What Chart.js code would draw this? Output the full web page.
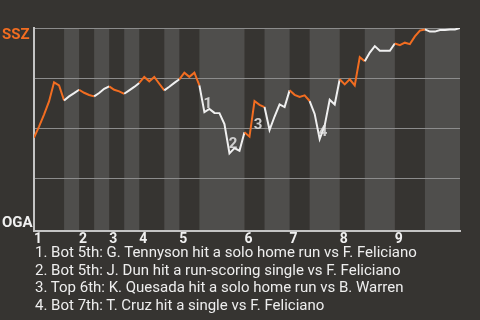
<!DOCTYPE html>
<html>
<head>
<meta charset="utf-8">
<script src="https://cdn.jsdelivr.net/npm/chart.js@4/dist/chart.umd.min.js"></script>
<style>
  body { margin: 0; background: #363431; font-family: Roboto, sans-serif; }
  #wrap { position: relative; width: 480px; height: 250px; }
  #notes { position: absolute; left: 35px; top: 244px; color: #eeeeee; font-size: 15px; line-height: 17.7px; }
</style>
</head>
<body>
<div id="wrap"><canvas id="wpChart"></canvas></div>
<div id="notes"></div>
<script>
// win probability for SSZ, one value per plate appearance
const winProb = [
  45.5, 51, 57, 63.5, 73, 71.5,
  64, 66, 67.6,
  69.3, 67.8, 66.7,
  66, 67.7, 69.8,
  71, 69.3, 68.5,
  67.3, 69, 70.7,
  72.7, 75.7, 73.5, 75.7, 72.3,
  69, 70.8, 72.7,
  74.5, 77.8, 75.7, 77.8,
  71.5, 58.2, 59.8, 57.8, 57.7, 52.3, 37.7, 40.3, 39,
  48.2, 46, 63.7, 61.8,
  60.7, 49.3, 56, 62, 60.7,
  69, 66.8, 65.7, 66.5,
  63.7, 57.3, 44.8, 51.5, 64.3, 62,
  74.5, 72, 74.5, 71.5, 85.5,
  83.5, 87.8, 91, 88.7, 88.7, 88.7,
  92.3, 91.5, 92.7, 92, 95.8, 98.7,
  99.3, 98.2, 98.2, 99, 99, 99.3, 99.3, 100
];

// event index where each half inning starts (last = end of game)
const halfInnings = [0, 6, 9, 12, 15, 18, 21, 26, 29, 33, 42, 46, 51, 55, 61, 66, 72, 78, 85];
const inningLabels = ['1', '2', '3', '4', '5', '6', '7', '8', '9'];
const gridValues = [0, 25, 50, 75, 100];
const teams = ['SSZ', 'OGA'];

const noteEvents = [34, 39, 44, 57];
const noteTexts = [
  'Bot 5th: G. Tennyson hit a solo home run vs F. Feliciano',
  'Bot 5th: J. Dun hit a run-scoring single vs F. Feliciano',
  'Top 6th: K. Quesada hit a solo home run vs B. Warren',
  'Bot 7th: T. Cruz hit a single vs F. Feliciano'
];

const orange = '#f26d21';
const white = '#f0f0f0';

const inningStarts = halfInnings.filter((v, i) => i % 2 === 0 && i < halfInnings.length - 1);

function halfIndex(x) {
  for (let i = 0; i < halfInnings.length - 1; i++) {
    if (x >= halfInnings[i] && x < halfInnings[i + 1]) return i;
  }
  return halfInnings.length - 2;
}

document.getElementById('notes').innerHTML =
  noteTexts.map((t, i) => '<div>' + (i + 1) + '. ' + t + '</div>').join('');

// shaded bottom halves
const bands = {
  id: 'bands',
  beforeDraw(chart) {
    const {ctx, chartArea, scales: {x}} = chart;
    ctx.save();
    ctx.fillStyle = '#4f4e4c';
    for (let i = 1; i < halfInnings.length - 1; i += 2) {
      const x0 = x.getPixelForValue(halfInnings[i]);
      const x1 = x.getPixelForValue(halfInnings[i + 1]);
      ctx.fillRect(x0, chartArea.top, x1 - x0, chartArea.bottom - chartArea.top);
    }
    ctx.restore();
  }
};

// numbered play markers + team names
const labels = {
  id: 'labels',
  afterDatasetsDraw(chart) {
    const {ctx, scales: {x, y}} = chart;
    ctx.save();
    ctx.font = 'bold 15px Roboto';
    ctx.fillStyle = 'rgba(230,230,230,0.85)';
    ctx.textAlign = 'center';
    ctx.textBaseline = 'middle';
    noteEvents.forEach((k, i) => {
      const px = (x.getPixelForValue(k - 1) + x.getPixelForValue(k)) / 2 + 6;
      const py = (y.getPixelForValue(winProb[k - 1]) + y.getPixelForValue(winProb[k])) / 2 + 6;
      ctx.fillText(String(i + 1), px, py);
    });
    ctx.restore();
  },
  afterDraw(chart) {
    const {ctx, scales: {y}} = chart;
    ctx.save();
    ctx.font = 'bold 15px Roboto';
    ctx.textAlign = 'left';
    ctx.textBaseline = 'alphabetic';
    ctx.fillStyle = orange;
    ctx.fillText(teams[0], 2, y.getPixelForValue(100) + 11);
    ctx.fillStyle = white;
    ctx.fillText(teams[1], 2, y.getPixelForValue(0) - 2);
    ctx.restore();
  }
};

new Chart('wpChart', {
  type: 'line',
  data: {
    datasets: [{
      data: winProb.map((v, i) => ({x: i, y: v})),
      borderWidth: 2,
      pointRadius: 0,
      tension: 0,
      segment: {
        borderColor: ctx => halfIndex(ctx.p0.parsed.x) % 2 === 0 ? orange : white
      }
    }]
  },
  options: {
    responsive: true,
    maintainAspectRatio: false,
    animation: false,
    layout: { padding: { left: 34, right: 20, top: 28, bottom: 2 } },
    plugins: { legend: { display: false }, tooltip: { enabled: false } },
    scales: {
      x: {
        type: 'linear',
        min: 0,
        max: halfInnings[halfInnings.length - 1],
        grid: { display: false, drawTicks: false },
        border: { color: '#c4c4c4', width: 2 },
        afterBuildTicks: s => { s.ticks = inningStarts.map(v => ({value: v})); },
        ticks: {
          align: 'start',
          autoSkip: false,
          maxRotation: 0,
          padding: 0,
          color: white,
          font: { family: 'Roboto', size: 14, weight: 'bold' },
          callback: (v, i) => inningLabels[i]
        }
      },
      y: {
        min: -1,
        max: 100,
        afterBuildTicks: s => { s.ticks = gridValues.map(v => ({value: v})); },
        grid: {
          color: ctx => ctx.tick && ctx.tick.value > 0 ? '#8c8c8c' : 'transparent',
          drawTicks: false
        },
        border: { color: '#c4c4c4', width: 2 },
        ticks: { display: false }
      }
    }
  },
  plugins: [bands, labels]
});
</script>
</body>
</html>
